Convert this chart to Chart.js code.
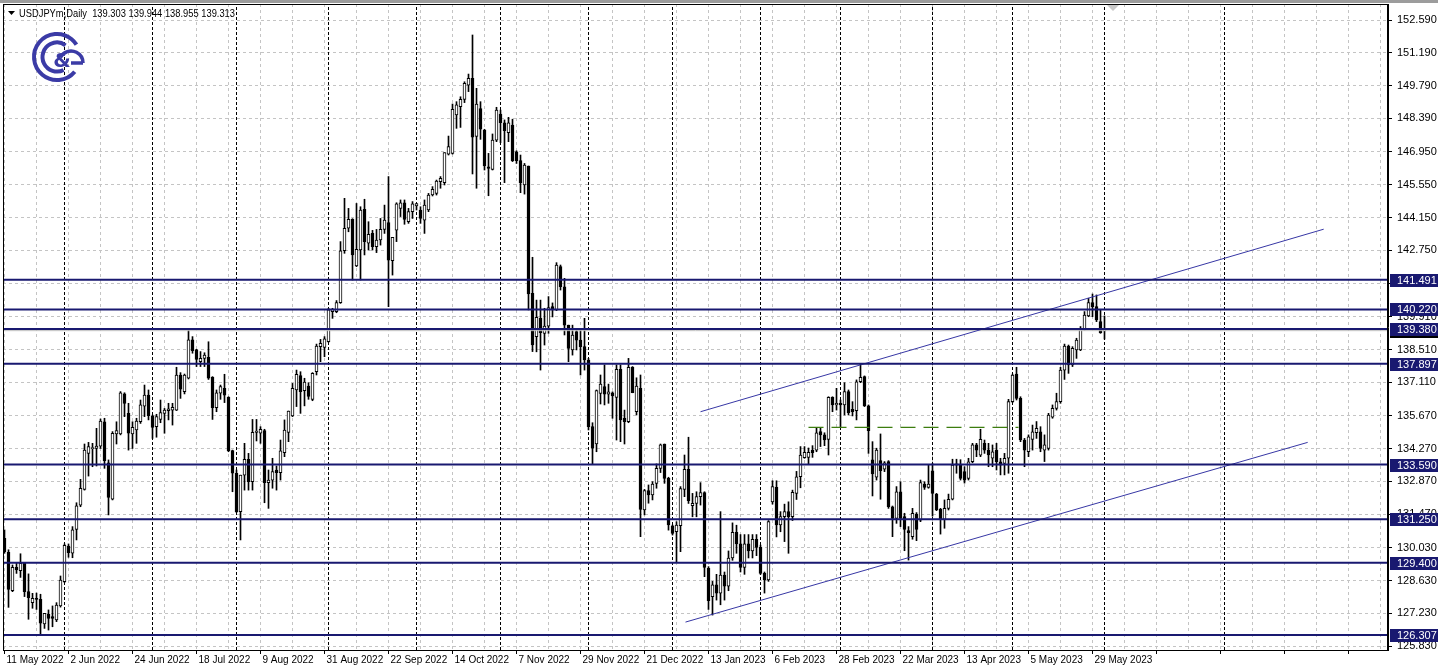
<!DOCTYPE html>
<html><head><meta charset="utf-8">
<script src="https://cdn.jsdelivr.net/npm/chart.js@4.4.0/dist/chart.umd.min.js"></script>
<style>html,body{margin:0;padding:0;background:#fff;overflow:hidden}canvas{display:block}</style>
</head><body>
<canvas id="c" width="1438" height="671"></canvas>
<script>
// ---------- data ----------
const symbolName = 'USDJPYm,Daily';
const headerValues = ['139.303', '139.944', '138.955', '139.313'];
const dateLabels = ['11 May 2022','2 Jun 2022','24 Jun 2022','18 Jul 2022','9 Aug 2022','31 Aug 2022','22 Sep 2022','14 Oct 2022','7 Nov 2022','29 Nov 2022','21 Dec 2022','13 Jan 2023','6 Feb 2023','28 Feb 2023','22 Mar 2023','13 Apr 2023','5 May 2023','29 May 2023'];
const labelEvery = 16;
const gridEvery = 8;
const priceTicks = [152.590,151.190,149.790,148.390,146.950,145.550,144.150,142.750,141.310,139.910,138.510,137.110,135.670,134.270,132.870,131.470,130.030,128.630,127.230,125.830];

const opens = [
130.44,129.84,128.20,129.20,129.06,129.37,128.16,127.69,127.87,127.83,
126.78,127.19,127.09,126.95,127.55,128.59,130.11,129.80,130.82,131.86,
132.53,134.07,134.27,134.28,134.38,135.42,133.67,132.11,134.90,134.90,
136.61,135.78,134.90,135.07,135.42,136.09,136.56,135.67,135.21,135.52,
135.78,135.90,135.92,135.92,137.42,136.71,137.28,138.92,138.49,137.99,
138.13,138.17,137.32,136.02,136.64,136.85,136.47,134.19,133.22,131.58,
133.14,133.81,132.86,134.97,134.93,135.04,132.82,132.93,133.36,133.24,
134.10,134.97,135.67,136.78,137.39,136.75,136.95,136.38,137.56,138.63,
138.60,138.84,140.13,140.13,140.51,142.73,143.69,144.07,142.08,142.76,
144.50,143.05,143.47,142.90,143.19,143.64,143.93,142.30,143.61,144.54,
144.78,143.97,144.40,144.65,144.47,144.04,144.47,145.11,145.18,145.68,
145.64,146.86,146.89,148.53,148.89,149.20,149.81,150.10,147.61,148.81,
147.89,146.32,146.21,147.46,148.57,148.20,147.78,148.10,146.96,146.58,
145.54,146.35,140.91,139.06,139.84,139.20,139.51,140.34,140.20,142.05,
141.19,139.55,138.49,139.27,138.91,138.63,138.06,135.21,134.47,136.63,
136.92,136.60,136.66,136.46,137.66,135.57,135.43,137.75,135.85,136.85,
131.65,132.48,132.29,132.79,133.43,134.47,133.00,130.97,130.72,130.98,
132.53,133.39,131.83,131.93,132.22,132.39,129.16,127.95,128.45,128.10,
128.87,128.40,129.60,130.70,130.20,129.20,130.20,129.90,130.40,130.05,
128.94,128.66,132.00,132.62,131.01,131.37,131.58,131.37,132.36,133.07,
133.89,133.90,134.20,134.21,135.00,134.86,134.67,136.47,136.14,136.21,
136.14,136.71,135.95,135.90,137.13,137.35,136.10,133.79,133.05,133.76,
133.39,133.72,131.79,131.29,132.43,131.37,130.77,130.51,131.48,131.22,
132.76,132.62,133.32,132.33,131.68,131.25,131.72,132.11,133.57,133.57,
133.29,133.00,133.71,134.43,133.99,134.50,134.21,133.86,134.21,133.71,
133.64,133.86,136.28,137.46,136.42,134.64,134.14,134.67,134.95,134.99,
134.21,134.28,135.62,135.99,136.28,137.63,138.66,137.85,138.49,138.49,
139.37,139.94,140.51,140.34,139.70,139.303];

const highs = [
130.80,129.95,129.30,129.40,129.78,129.40,128.92,128.09,128.10,128.05,
127.23,127.38,127.55,127.69,128.83,130.20,130.20,130.94,131.96,132.96,
134.47,134.54,134.50,135.14,135.54,135.57,133.79,135.00,135.42,136.71,
136.66,136.21,135.42,135.57,136.35,136.99,136.78,135.71,135.74,136.35,
135.99,136.21,136.21,137.75,137.52,137.46,139.34,139.06,138.52,138.42,
138.37,138.84,137.35,136.78,136.99,137.45,136.49,134.21,133.36,133.14,
134.50,134.07,135.52,135.52,135.21,135.10,133.36,133.86,133.53,134.64,
135.50,135.88,137.06,137.63,137.56,137.28,137.09,137.52,138.74,138.94,
139.06,140.27,140.27,140.60,143.12,144.97,144.54,144.10,144.75,144.61,
144.93,143.97,143.60,143.64,144.11,144.68,145.90,143.30,144.78,144.90,
144.90,144.54,144.83,144.75,144.61,144.90,145.18,145.47,145.75,145.90,
146.92,147.63,149.00,149.10,149.31,149.95,150.28,151.95,149.67,149.10,
147.92,146.89,147.72,148.86,148.74,148.32,148.43,148.35,147.00,146.82,
146.46,146.35,142.45,140.62,140.62,140.27,140.77,140.50,142.22,142.12,
141.55,139.55,139.55,139.41,139.41,139.84,138.13,135.38,136.78,137.42,
137.85,137.03,136.70,137.85,137.85,135.92,138.13,137.78,137.30,137.42,
132.53,132.72,132.86,133.62,134.47,134.47,133.05,131.01,131.15,132.65,
134.00,134.76,132.36,132.43,132.82,132.43,129.23,128.60,128.90,131.58,
129.00,129.90,131.10,131.00,130.60,130.60,130.60,130.60,130.60,130.15,
129.00,131.20,132.90,132.90,131.58,131.90,132.00,132.50,133.30,134.36,
134.36,134.30,134.40,135.18,135.14,134.95,136.49,136.49,136.85,136.35,
137.09,136.78,136.28,137.21,137.89,137.38,136.14,134.57,134.29,134.90,
133.72,133.76,131.82,132.65,132.86,131.51,130.94,131.72,131.54,132.93,
132.86,133.57,133.64,132.36,131.72,132.08,132.33,133.82,133.82,133.80,
133.50,133.86,134.50,134.50,135.10,134.64,134.50,134.43,134.50,133.86,
134.07,136.38,137.46,137.75,136.49,134.71,134.86,135.28,135.43,135.21,
134.86,135.78,136.14,136.64,137.75,138.74,138.70,138.63,138.99,139.49,
140.13,140.70,140.88,140.84,140.20,139.944];

const lows = [
129.80,127.49,128.16,128.94,128.77,127.95,126.98,127.45,127.40,126.31,
126.59,126.52,126.66,126.88,127.50,128.55,129.63,129.61,130.37,131.79,
132.50,133.10,133.50,133.53,134.28,133.43,131.44,132.08,134.47,134.86,
135.64,134.21,134.28,134.50,135.35,135.64,135.50,134.71,134.76,135.38,
134.93,135.50,135.28,135.90,136.42,136.61,137.25,138.35,137.78,137.78,
137.78,137.23,135.52,135.85,136.38,136.24,134.14,132.43,131.54,130.37,
132.50,132.50,132.50,134.60,134.50,131.96,131.72,132.58,132.50,132.93,
133.93,134.57,135.64,136.07,135.78,136.10,136.38,136.32,137.42,137.99,
138.20,138.82,139.84,140.08,140.48,142.62,143.54,141.48,142.05,141.48,
142.55,142.76,142.76,142.65,142.97,143.47,140.34,141.69,143.12,144.19,
143.86,143.90,144.11,144.47,143.90,143.47,144.40,145.07,145.11,145.40,
145.54,146.82,146.86,147.96,148.00,149.06,149.53,146.01,145.40,147.49,
146.18,145.08,146.18,147.39,147.35,145.64,147.39,146.54,146.46,145.21,
145.15,140.20,138.42,138.41,137.63,138.70,139.20,139.90,140.17,141.05,
139.13,137.99,138.27,138.49,137.42,137.63,135.07,133.62,134.14,136.18,
136.14,136.21,135.57,134.64,134.57,134.47,135.38,136.66,135.71,130.51,
131.44,131.94,132.08,132.58,133.25,132.79,130.79,130.58,129.44,129.87,
132.22,131.93,131.36,131.36,131.86,128.80,127.40,127.16,127.80,127.60,
127.80,128.20,129.50,129.80,129.00,128.90,129.60,129.60,129.70,128.90,
128.10,128.60,131.90,130.50,130.72,130.30,129.80,131.20,132.10,132.60,
133.86,133.60,133.90,134.14,134.36,134.40,134.00,135.85,135.92,135.18,
135.71,135.71,135.67,135.50,137.09,136.07,134.07,132.25,132.93,132.11,
133.29,131.72,130.51,131.08,130.94,129.91,129.51,130.40,130.34,131.15,
132.53,132.58,131.39,131.62,130.62,130.87,131.65,132.08,133.22,132.93,
132.80,132.93,133.67,133.93,133.93,134.07,133.50,133.50,133.36,133.15,
133.15,133.22,136.24,136.35,134.57,133.50,133.93,134.21,134.71,134.14,
133.72,134.21,135.57,135.92,136.21,137.23,137.49,137.78,138.13,138.46,
139.34,139.91,139.91,139.70,139.20,138.955];

const closes = [
129.87,128.26,129.20,129.09,129.37,128.16,127.90,127.87,127.83,126.81,
127.23,127.02,127.02,127.59,128.66,130.14,129.83,130.80,131.83,132.58,
134.21,134.36,134.31,134.38,135.45,133.76,132.19,134.93,135.04,136.66,
136.21,134.93,135.18,135.45,136.14,136.56,135.68,135.18,135.64,135.81,
135.92,135.97,136.04,137.42,136.81,137.42,138.92,138.46,138.09,138.13,
138.27,137.28,136.02,136.66,136.92,136.56,134.19,133.22,131.58,133.14,
133.81,132.86,134.97,135.02,135.10,132.82,132.93,133.29,133.24,134.18,
135.07,135.88,136.85,137.45,136.71,137.12,136.50,137.49,138.66,138.77,
138.96,140.20,140.23,140.51,142.73,143.69,144.07,142.55,142.79,144.47,
143.12,143.43,142.90,143.19,143.64,144.04,142.33,143.30,144.73,144.78,
144.07,144.40,144.73,144.74,144.11,144.68,145.11,145.35,145.71,145.82,
146.92,147.18,148.77,148.96,149.20,149.88,150.10,147.58,149.00,147.92,
146.35,146.25,147.46,148.74,148.20,147.86,148.20,146.58,146.58,145.64,
146.39,140.88,138.70,139.88,139.23,139.51,140.30,140.20,142.12,141.19,
139.55,138.56,139.13,138.91,138.63,138.06,135.21,134.29,136.75,137.03,
136.60,136.70,136.52,137.66,135.50,135.43,137.75,136.66,136.95,131.68,
132.48,132.29,132.76,133.43,134.43,133.00,131.01,130.65,131.01,132.57,
133.39,132.05,131.93,132.22,132.39,129.20,127.77,128.45,128.10,128.87,
128.40,129.60,130.70,130.20,129.20,130.20,129.90,130.40,130.05,128.94,
128.66,131.15,132.65,131.01,131.37,131.58,131.37,132.40,133.07,134.00,
134.11,134.11,134.10,134.95,134.86,134.64,136.47,136.14,136.21,136.14,
136.71,135.81,135.85,137.13,137.32,136.10,135.04,133.19,134.21,133.33,
133.67,131.79,131.29,132.43,131.29,130.82,130.68,131.51,130.82,132.82,
132.62,132.76,132.36,131.65,131.25,131.72,132.11,133.57,133.62,133.00,
132.93,133.71,134.43,134.21,134.67,134.21,134.00,134.14,133.71,133.57,
133.86,136.28,137.42,136.42,134.64,134.21,134.78,134.99,135.14,134.28,
134.43,135.71,135.99,136.28,137.63,138.66,137.85,138.56,138.91,139.41,
139.98,140.51,140.34,139.77,139.23,139.313];

const levels = [141.491, 140.220, 139.380, 137.897, 133.590, 131.250, 129.400, 126.307];
const bidPrice = 139.313;
const monthStartBars = [15, 37, 58, 81, 103, 124, 146, 167, 189, 209, 232, 252, 275, 305];
const channelUpperX = [174, 329.8];
const channelUpperY = [135.85, 143.65];
const channelLowerX = [170.25, 325.8];
const channelLowerY = [126.86, 134.54];
const flatLevelX = [201, 253.5];
const flatLevelY = 135.18;

// ---------- view ----------
const W = 1438, H = 671;
const xMin = -0.375, xMax = 345.875, yMin = 125.667, yMax = 153.274;
const NAVY = 'rgb(25,25,112)';
const FONT = '"Liberation Sans", Arial, sans-serif';

const idx = opens.map((_, i) => i);
const wickData = idx.map(i => ({x: i, y: [lows[i], highs[i]]}));
const bodyData = idx.map(i => ({x: i, y: [opens[i], closes[i]]}));
const bodyFill = idx.map(i => closes[i] >= opens[i] ? '#ffffff' : '#000000');

const levelData = [];
levels.forEach(v => { levelData.push({x: xMin, y: v}, {x: xMax, y: v}, {x: xMax, y: null}); });
const sepData = [];
monthStartBars.forEach(b => { sepData.push({x: b, y: yMin}, {x: b, y: yMax}, {x: b, y: null}); });

const gridBars = [];
for (let b = 0; b <= xMax; b += gridEvery) gridBars.push(b);

const noPad = s => { s.paddingTop = 0; s.paddingBottom = 0; s.paddingLeft = 0; s.paddingRight = 0; };

const overlay = {
  id: 'overlay',
  beforeDraw(chart) {
    const c = chart.ctx;
    c.save();
    c.fillStyle = '#fff'; c.fillRect(0, 0, W, H);
    c.fillStyle = '#9c9c9c'; c.fillRect(0, 0, W, 3);
    c.restore();
  },
  afterDraw(chart) {
    const c = chart.ctx, a = chart.chartArea, ys = chart.scales.y;
    c.save();
    // frame
    c.strokeStyle = '#000'; c.lineWidth = 1;
    c.strokeRect(a.left + 0.5, a.top + 0.5, a.right - a.left - 1, a.bottom - a.top);
    // shift marker
    c.fillStyle = '#c8c8c8';
    c.beginPath(); c.moveTo(1107, a.top + 1); c.lineTo(1119, a.top + 1); c.lineTo(1113, a.top + 7); c.closePath(); c.fill();
    // header
    c.fillStyle = '#000';
    c.beginPath(); c.moveTo(8, 11); c.lineTo(15, 11); c.lineTo(11.5, 15); c.closePath(); c.fill();
    c.font = '11px ' + FONT; c.textBaseline = 'middle'; c.textAlign = 'left';
    const head = symbolName + '  ' + headerValues.join(' ');
    const hw = c.measureText(head).width;
    c.save(); c.translate(19, 13.5); c.scale(216 / hw, 1); c.fillText(head, 0, 0); c.restore();
    // logo
    c.strokeStyle = '#3b3ba6'; c.fillStyle = '#3b3ba6'; c.lineWidth = 4;
    c.beginPath(); c.arc(57, 57, 23, Math.PI * 0.22, Math.PI * 1.82); c.stroke();
    c.beginPath(); c.arc(57, 57, 14.5, Math.PI * 0.35, Math.PI * 1.7); c.stroke();
    c.lineWidth = 3.5;
    c.beginPath(); c.arc(71, 63, 12, Math.PI * 1.15, Math.PI * 2.0); c.stroke();
    c.beginPath(); c.moveTo(71, 63); c.lineTo(83, 63); c.stroke();
    c.font = 'bold 20px "DejaVu Sans", sans-serif'; c.textAlign = 'center';
    c.fillText('&', 62, 62);
    // price label boxes
    c.font = '11px ' + FONT; c.textAlign = 'left'; c.textBaseline = 'middle';
    const box = (v, col) => {
      const y = Math.round(ys.getPixelForValue(v));
      c.fillStyle = col; c.fillRect(a.right + 2, y - 6, 48, 13);
      c.fillStyle = '#fff'; c.fillText(v.toFixed(3), 1397, y + 0.5);
    };
    box(bidPrice, '#000');
    levels.forEach(v => box(v, NAVY));
    c.restore();
  }
};

new Chart(document.getElementById('c').getContext('2d'), {
  type: 'bar',
  data: {
    datasets: [
      {type: 'line', data: sepData, borderColor: '#000', borderWidth: 1, borderDash: [3, 2], pointRadius: 0, spanGaps: false, order: 6, clip: 0},
      {type: 'bar', data: wickData, backgroundColor: '#000', barThickness: 1, grouped: false, order: 5},
      {type: 'bar', data: bodyData, backgroundColor: bodyFill, borderColor: '#000', borderWidth: 1, borderSkipped: false, barThickness: 3, minBarLength: 1, grouped: false, order: 4},
      {type: 'line', data: [{x: xMin, y: bidPrice}, {x: xMax, y: bidPrice}], borderColor: '#c0c0c0', borderWidth: 1, pointRadius: 0, order: 3, clip: 0},
      {type: 'line', data: levelData, borderColor: NAVY, borderWidth: 2, pointRadius: 0, spanGaps: false, order: 1, clip: 0},
      {type: 'line', data: channelUpperX.map((x, k) => ({x, y: channelUpperY[k]})), borderColor: 'rgb(55,55,165)', borderWidth: 1, pointRadius: 0, order: 2, clip: 0},
      {type: 'line', data: channelLowerX.map((x, k) => ({x, y: channelLowerY[k]})), borderColor: 'rgb(55,55,165)', borderWidth: 1, pointRadius: 0, order: 2, clip: 0},
      {type: 'line', data: flatLevelX.map(x => ({x, y: flatLevelY})), borderColor: 'rgb(60,125,15)', borderWidth: 1.2, borderDash: [15, 8], pointRadius: 0, order: 2, clip: 0}
    ]
  },
  options: {
    responsive: false, animation: false, devicePixelRatio: 1, events: [],
    layout: {padding: {left: 3, top: 4, right: 0, bottom: 0}},
    plugins: {legend: {display: false}, tooltip: {enabled: false}},
    scales: {
      x: {
        type: 'linear', min: xMin, max: xMax, offset: false,
        afterBuildTicks: s => { s.ticks = gridBars.map(v => ({value: v})); },
        afterFit: s => { s.height = 21; noPad(s); },
        ticks: {
          autoSkip: false, maxRotation: 0, align: 'start', labelOffset: 2, padding: 0,
          color: '#000', font: {family: FONT, size: 10},
          callback: v => (v % labelEvery === 0 && dateLabels[v / labelEvery]) ? dateLabels[v / labelEvery] : ''
        },
        grid: {offset: false, color: '#c4c4c4', lineWidth: 1, tickLength: 4,
          tickColor: ctx => (ctx.tick && ctx.tick.value % labelEvery === 0) ? '#000' : 'rgba(0,0,0,0)'},
        border: {display: true, color: '#000', dash: [3, 3]}
      },
      y: {
        type: 'linear', position: 'right', min: yMin, max: yMax, beginAtZero: false,
        afterBuildTicks: s => { s.ticks = priceTicks.map(v => ({value: v})); },
        afterFit: s => { s.width = 50; noPad(s); },
        ticks: {autoSkip: false, padding: 5, color: '#000', font: {family: FONT, size: 11}, callback: v => v.toFixed(3)},
        grid: {color: '#c4c4c4', lineWidth: 1, tickLength: 4, tickColor: '#000'},
        border: {display: true, color: '#000', dash: [3, 3]}
      }
    }
  },
  plugins: [overlay]
});
</script>
</body></html>
